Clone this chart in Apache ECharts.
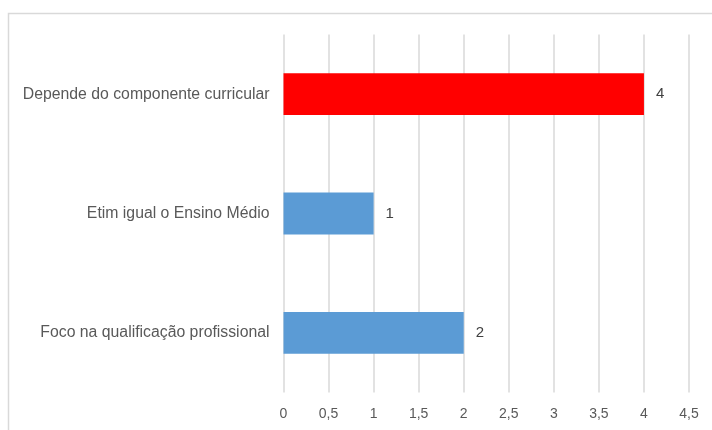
<!DOCTYPE html>
<html>
<head>
<meta charset="utf-8">
<script src="https://cdn.jsdelivr.net/npm/echarts@6/dist/echarts.min.js"></script>
<style>
html,body{margin:0;padding:0;background:#fff;}
#chart{width:712px;height:430px;}
</style>
</head>
<body>
<div id="chart"></div>
<script>
// Response categories, top to bottom
const categories = ['Depende do componente curricular', 'Etim igual o Ensino Médio', 'Foco na qualificação profissional'];
const counts = [4, 1, 2];
const barColors = ['#ff0000', '#5b9bd5', '#5b9bd5'];
const xTicks = [0, 0.5, 1, 1.5, 2, 2.5, 3, 3.5, 4, 4.5];

const chart = echarts.init(document.getElementById('chart'), null, {renderer: 'canvas'});
const fontFamily = 'Liberation Sans, Arial, sans-serif';

chart.setOption({
  animation: false,
  backgroundColor: '#ffffff',
  graphic: [{
    type: 'rect',
    left: 6, top: 11,
    shape: {width: 730, height: 440},
    style: {fill: 'none', stroke: '#d9d9d9', lineWidth: 1.5},
    silent: true
  }],
  grid: {left: 283.5, right: 23, top: 34.5, bottom: 37.5, containLabel: false},
  xAxis: {
    type: 'value',
    min: xTicks[0],
    max: xTicks[xTicks.length - 1],
    interval: 0.5,
    axisLine: {show: false},
    axisTick: {show: false},
    splitLine: {show: true, lineStyle: {color: '#d9d9d9', width: 1.5}},
    axisLabel: {
      color: '#595959', fontSize: 14, fontFamily: fontFamily, margin: 15,
      formatter: v => String(v).replace('.', ',')
    }
  },
  yAxis: {
    type: 'category',
    data: categories,
    inverse: true,
    axisLine: {show: false},
    axisTick: {show: false},
    axisLabel: {color: '#595959', fontSize: 15.8, fontFamily: fontFamily, margin: 14}
  },
  series: [{
    type: 'bar',
    data: counts.map((v, i) => ({value: v, itemStyle: {color: barColors[i]}})),
    barCategoryGap: '65%',
    label: {
      show: true, position: 'right', distance: 12,
      color: '#404040', fontSize: 15, fontFamily: fontFamily
    }
  }]
});
</script>
</body>
</html>
